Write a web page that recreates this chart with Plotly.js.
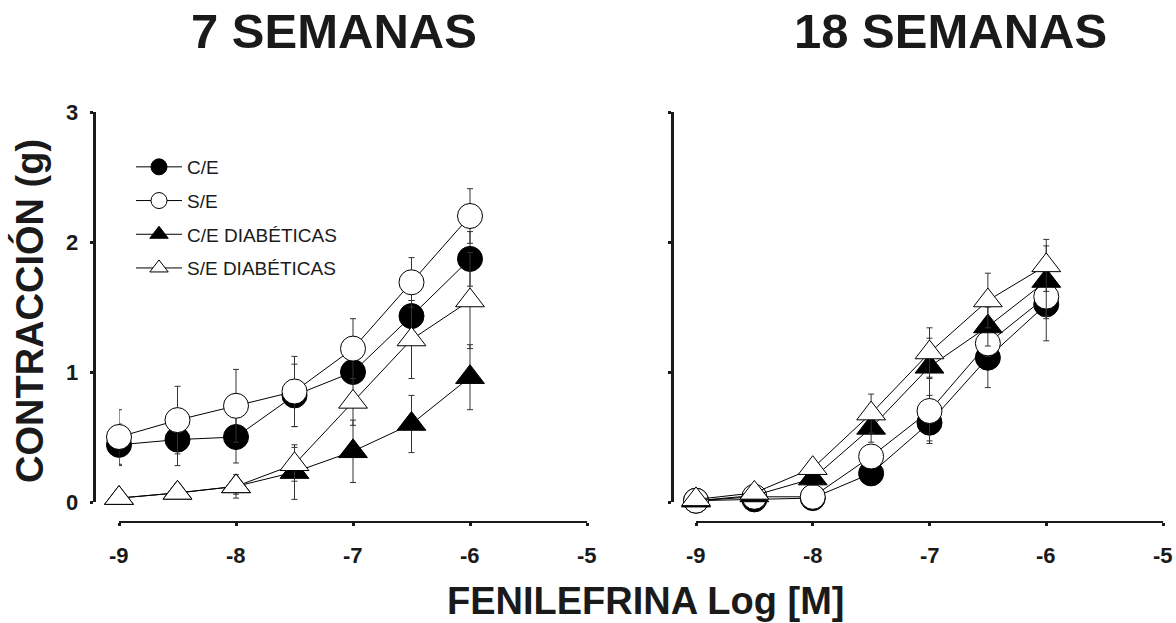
<!DOCTYPE html>
<html>
<head>
<meta charset="utf-8">
<script src="https://cdn.plot.ly/plotly-3.0.1.min.js"></script>
<style>html,body{margin:0;padding:0;background:#fff;}#chart{width:1176px;height:623px;}</style>
</head>
<body>
<div id="chart"></div>
<script>
// Concentración de fenilefrina (log M)
const conc = [-9, -8.5, -8, -7.5, -7, -6.5, -6];
const xTicks = [-9, -8, -7, -6, -5];
const yTicks = [0, 1, 2, 3];
const seriesNames = ['C/E', 'S/E', 'C/E DIABÉTICAS', 'S/E DIABÉTICAS'];

// 7 semanas
const ce7 = [0.44, 0.48, 0.50, 0.82, 1.00, 1.43, 1.87];
const ce7Err = [0.16, 0.20, 0.20, 0.24, 0.08, 0.12, 0.21];
const se7 = [0.50, 0.63, 0.74, 0.85, 1.18, 1.69, 2.20];
const se7Err = [0.21, 0.26, 0.28, 0.27, 0.23, 0.19, 0.21];
const ceD7 = [0.03, 0.07, 0.12, 0.23, 0.39, 0.60, 0.96];
const ceD7Err = [0.02, 0.03, 0.09, 0.21, 0.24, 0.22, 0.25];
const seD7 = [0.03, 0.07, 0.12, 0.29, 0.77, 1.25, 1.55];
const seD7Err = [0.01, 0.02, 0.06, 0.13, 0.18, 0.30, 0.37];

// 18 semanas
const ce18 = [0.01, 0.02, 0.03, 0.22, 0.61, 1.11, 1.52];
const ce18Err = [0.01, 0.02, 0.02, 0.04, 0.14, 0.23, 0.28];
const se18 = [0.01, 0.04, 0.04, 0.35, 0.70, 1.22, 1.58];
const se18Err = [0.01, 0.02, 0.02, 0.05, 0.25, 0.10, 0.17];
const ceD18 = [0.01, 0.05, 0.18, 0.57, 1.04, 1.35, 1.70];
const ceD18Err = [0.01, 0.02, 0.05, 0.11, 0.22, 0.15, 0.27];
const seD18 = [0.02, 0.07, 0.26, 0.68, 1.15, 1.55, 1.82];
const seD18Err = [0.01, 0.02, 0.04, 0.15, 0.19, 0.21, 0.20];

const W = 1176, H = 623;
const FONT = 'Liberation Sans, Arial, Helvetica, sans-serif';
const TICK_FONT = {family: FONT, size: 22, color: '#1a1a1a', weight: 'bold'};

const styles = [
  {symbol: 'circle', color: '#000', size: 25},
  {symbol: 'circle', color: '#fff', size: 25},
  {symbol: 'triangle-up', color: '#000', size: 25},
  {symbol: 'triangle-up', color: '#fff', size: 25}
];

function mk(i, y, err, xa, ya, showLeg) {
  const s = styles[i];
  return {
    type: 'scatter', mode: 'lines+markers',
    x: conc, y: y, xaxis: xa, yaxis: ya,
    name: seriesNames[i], legendgroup: 'g' + i, showlegend: showLeg,
    line: {color: '#000', width: 1},
    marker: {symbol: s.symbol, size: s.size, color: s.color, line: {color: '#000', width: 1}},
    error_y: {type: 'data', array: err, visible: true, color: '#333', thickness: 1, width: 3},
    cliponaxis: false
  };
}

const data = [
  mk(0, ce7, ce7Err, 'x', 'y', true),
  mk(1, se7, se7Err, 'x', 'y', true),
  mk(2, ceD7, ceD7Err, 'x', 'y', true),
  mk(3, seD7, seD7Err, 'x', 'y', true),
  mk(0, ce18, ce18Err, 'x2', 'y2', false),
  mk(1, se18, se18Err, 'x2', 'y2', false),
  mk(2, ceD18, ceD18Err, 'x2', 'y2', false),
  mk(3, seD18, seD18Err, 'x2', 'y2', false)
];

const yDom = [1 - 502 / H, 1 - 112 / H];
const xPos = 1 - 522 / H;

function xax(dom) {
  return {
    domain: dom, range: [-9, -5], anchor: 'free', position: xPos,
    tickmode: 'array', tickvals: xTicks, showticklabels: false,
    showline: true, linecolor: '#1a1a1a', linewidth: 2,
    ticks: 'outside', ticklen: 3, tickwidth: 3, tickcolor: '#1a1a1a',
    showgrid: false, zeroline: false
  };
}
function yax(pos) {
  return {
    domain: yDom, range: [0, 3], anchor: 'free', position: pos,
    tickmode: 'array', tickvals: yTicks, showticklabels: false,
    showline: true, linecolor: '#1a1a1a', linewidth: 2.5,
    ticks: 'outside', ticklen: 3, tickwidth: 3, tickcolor: '#1a1a1a',
    showgrid: false, zeroline: false
  };
}

// Tick labels placed through the axes' own scales
const tickAnns = [];
['x', 'x2'].forEach(xr => xTicks.forEach(v => tickAnns.push({
  text: String(v), xref: xr, x: v, yref: 'paper', y: 1 - 555 / H,
  xanchor: 'center', yanchor: 'middle', showarrow: false, font: TICK_FONT
})));
yTicks.forEach(v => tickAnns.push({
  text: String(v), xref: 'paper', x: 80 / W, yref: 'y', y: v,
  xanchor: 'right', yanchor: 'middle', showarrow: false, font: TICK_FONT
}));

const layout = {
  width: W, height: H,
  margin: {l: 0, r: 0, t: 0, b: 0},
  font: {family: FONT, size: 16, color: '#1a1a1a'},
  paper_bgcolor: '#fff', plot_bgcolor: 'rgba(0,0,0,0)',
  xaxis: xax([119 / W, 587 / W]),
  yaxis: yax(94 / W),
  xaxis2: xax([696 / W, 1163 / W]),
  yaxis2: yax(672 / W),
  showlegend: true,
  legend: {
    x: 131 / W, y: 1 - 148 / H, xanchor: 'left', yanchor: 'top',
    bgcolor: 'rgba(0,0,0,0)', borderwidth: 0,
    font: {family: FONT, size: 19, color: '#1a1a1a'},
    traceorder: 'grouped', tracegroupgap: 6, itemwidth: 46
  },
  annotations: tickAnns.concat([
    {text: '7 SEMANAS', xref: 'paper', yref: 'paper', x: 334 / W, y: 1 - 31 / H,
     xanchor: 'center', yanchor: 'middle', showarrow: false,
     font: {family: FONT, size: 49, color: '#1a1a1a', weight: 'bold'}},
    {text: '18 SEMANAS', xref: 'paper', yref: 'paper', x: 950 / W, y: 1 - 31 / H,
     xanchor: 'center', yanchor: 'middle', showarrow: false,
     font: {family: FONT, size: 49, color: '#1a1a1a', weight: 'bold'}},
    {text: 'CONTRACCIÓN (g)', xref: 'paper', yref: 'paper', x: 30 / W, y: 1 - 311 / H,
     xanchor: 'center', yanchor: 'middle', textangle: -90, showarrow: false,
     font: {family: FONT, size: 38, color: '#1a1a1a', weight: 'bold'}},
    {text: 'FENILEFRINA Log [M]', xref: 'paper', yref: 'paper', x: 646 / W, y: 1 - 601 / H,
     xanchor: 'center', yanchor: 'middle', showarrow: false,
     font: {family: FONT, size: 38, color: '#1a1a1a', weight: 'bold'}}
  ])
};

Plotly.newPlot('chart', data, layout, {displayModeBar: false, staticPlot: true});
</script>
</body>
</html>
